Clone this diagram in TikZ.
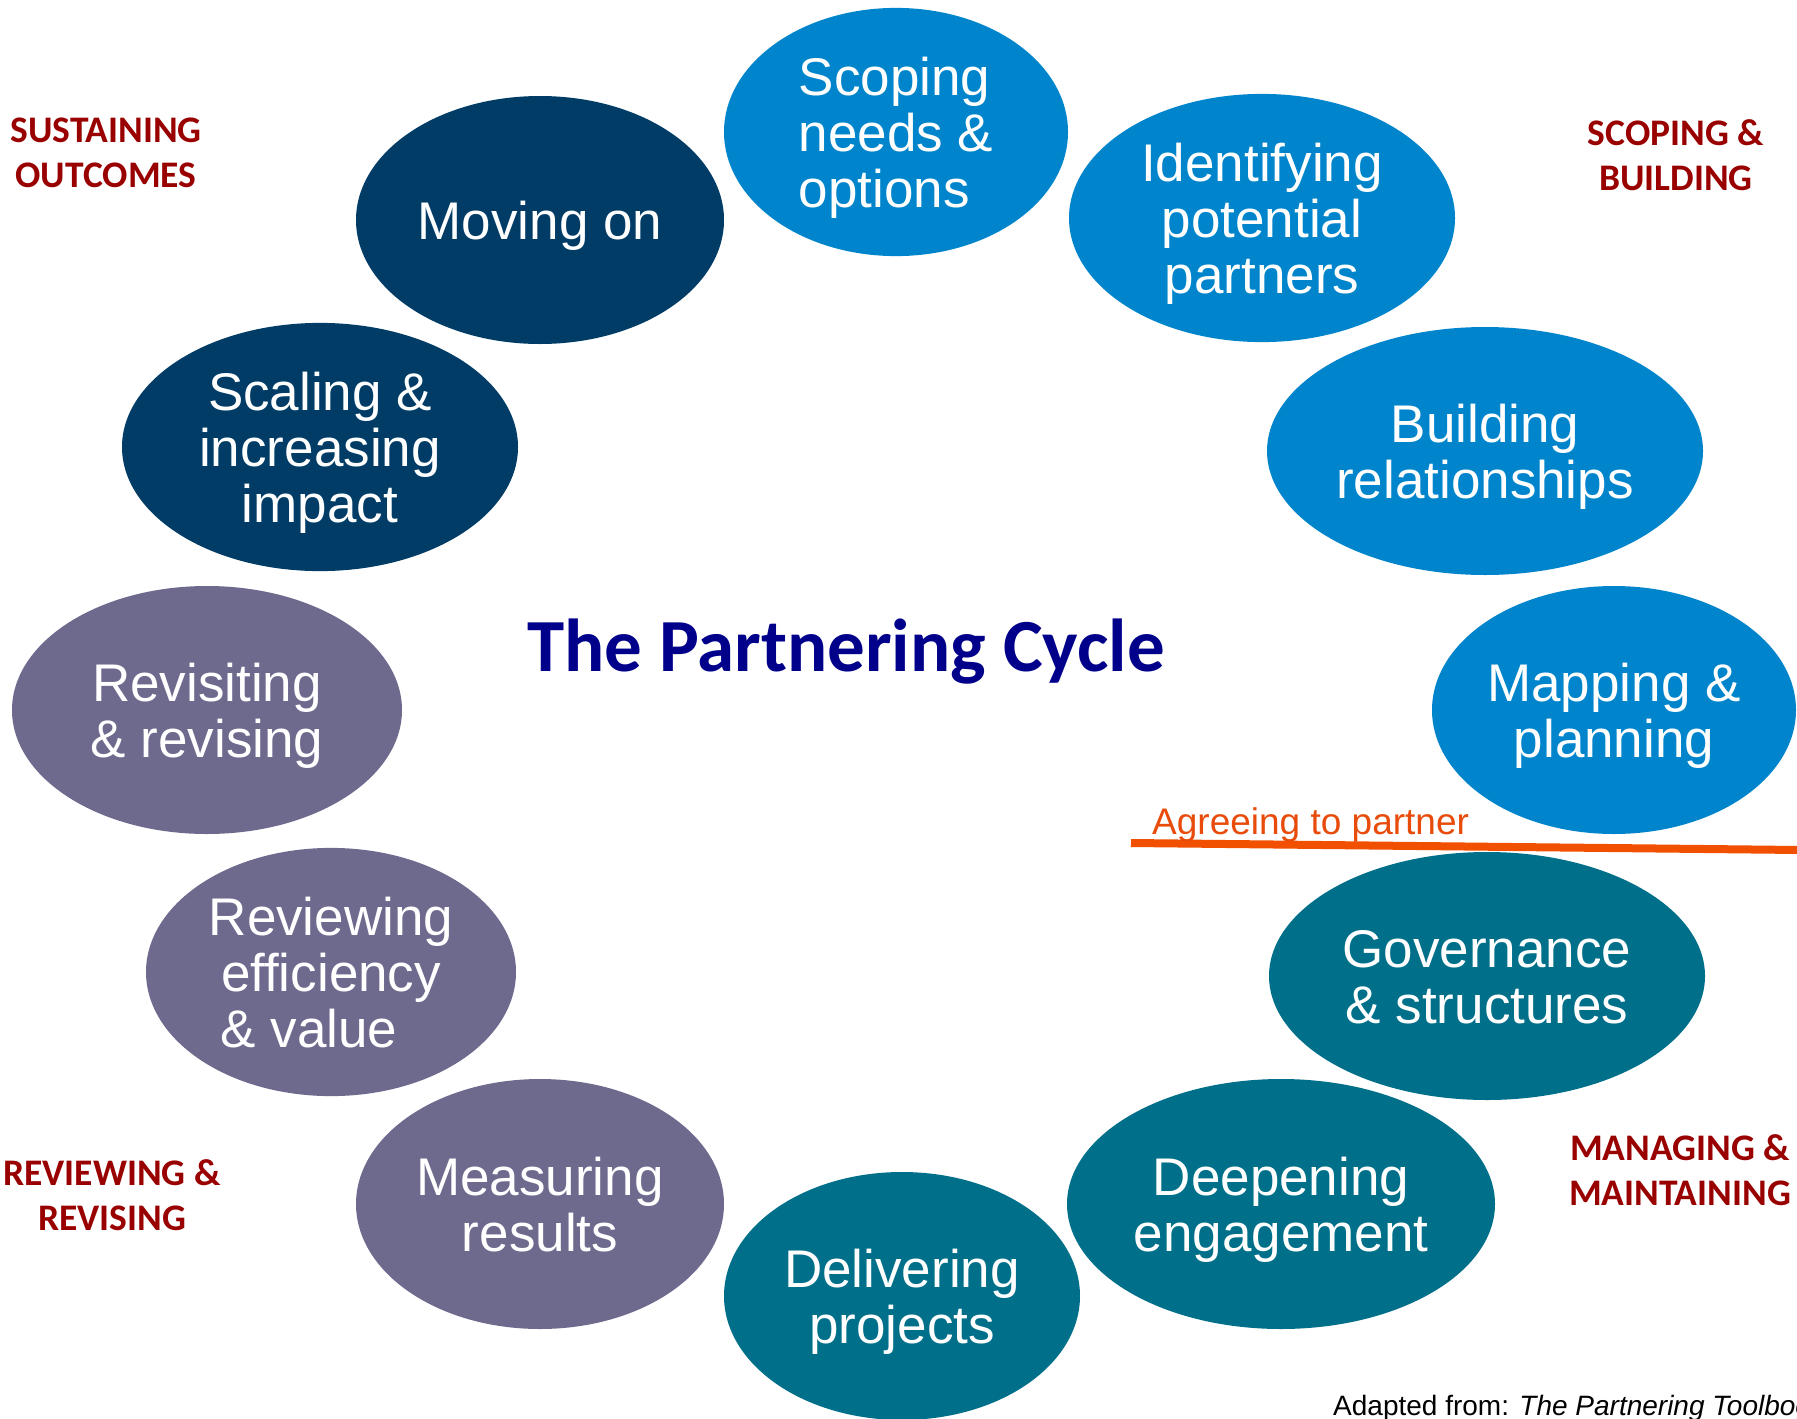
\documentclass[tikz,border=0pt]{standalone}
\usepackage{fontspec}
\setmainfont{Liberation Sans}
\newfontfamily\carl{Carlito}
\usetikzlibrary{shapes.geometric}
\definecolor{lblue}{RGB}{0,133,204}
\definecolor{navyc}{RGB}{0,60,102}
\definecolor{tealc}{RGB}{0,112,138}
\definecolor{purpc}{RGB}{110,106,142}
\definecolor{titlec}{RGB}{0,0,139}
\definecolor{dredc}{RGB}{153,0,0}
\definecolor{orangec}{RGB}{240,80,0}
\definecolor{orangetxt}{RGB}{232,75,10}
\newcommand\elfont{\fontsize{53}{56}\selectfont}
\newcommand\fstr{\rule{0pt}{51.5pt}}
\begin{document}
\begin{tikzpicture}[x=1pt,y=-1pt,
  ell/.style={ellipse, inner sep=0pt, outer sep=0pt, text=white, font=\elfont, align=center, minimum height=248pt,
    execute at end node={\rule[-12pt]{0pt}{12pt}}},
  phase/.style={font=\carl\bfseries\fontsize{37.5}{45}\selectfont, text=dredc, align=center, anchor=base, inner sep=0pt},
  ttl/.style={font=\carl\bfseries\fontsize{75}{80}\selectfont, text=titlec, anchor=base, inner sep=0pt},
  agree/.style={font=\fontsize{37}{40}\selectfont, text=orangetxt, anchor=base west, inner sep=0pt},
  src/.style={font=\fontsize{28}{30}\selectfont, text=black, anchor=base west, inner sep=0pt},
  divider/.style={draw=orangec, line width=8pt}]
\useasboundingbox (0,0) rectangle (1797,1419);
\clip (0,0) rectangle (1797,1419);
\fill[white] (0,0) rectangle (1797,1419);

% light blue ellipses
\node[ell, fill=lblue, minimum width=344pt, align=left] (scoping) at (896,132) {\fstr Scoping\\needs \&\\options};
\node[ell, fill=lblue, minimum width=386pt] (identifying) at (1262,218) {\fstr Identifying\\potential\\partners};
\node[ell, fill=lblue, minimum width=436pt] (building) at (1485,451) {\fstr Building\\relationships};
\node[ell, fill=lblue, minimum width=364pt] (mapping) at (1614,710) {\fstr Mapping \&\\planning};

% teal ellipses
\node[ell, fill=tealc, minimum width=436pt] (governance) at (1487,976) {\fstr Governance\\\& structures};
\node[ell, fill=tealc, minimum width=428pt, minimum height=250pt] (deepening) at (1281,1204) {\fstr Deepening\\engagement};
\node[ell, fill=tealc, minimum width=356pt] (delivering) at (902,1296) {\fstr Delivering\\projects};

% purple ellipses
\node[ell, fill=purpc, minimum width=368pt, minimum height=250pt] (measuring) at (540,1204) {\fstr Measuring\\results};
\node[ell, fill=purpc, minimum width=370pt] (reviewing) at (331,972) {\fstr Reviewing\\efficiency\\\& value\makebox[44pt]{}};
\node[ell, fill=purpc, minimum width=390pt] (revisiting) at (207,710) {\fstr Revisiting\\\& revising};

% navy ellipses
\node[ell, fill=navyc, minimum width=396pt] (scaling) at (320,447) {\fstr Scaling \&\\increasing\\impact};
\node[ell, fill=navyc, minimum width=368pt] (moving) at (540,220) {\fstr Moving on};

% title
\node[ttl] (title) at (846,671) {The Partnering Cycle};

% phase labels
\node[phase] (sustain) at (106,187) {SUSTAINING\\OUTCOMES};
\node[phase] (scopebuild) at (1676,190) {SCOPING \&\\BUILDING};
\node[phase] (reviewrev) at (112,1230) {REVIEWING \&\\REVISING};
\node[phase] (managing) at (1680,1205) {MANAGING \&\\MAINTAINING};

% agreeing to partner
\coordinate (divL) at (1131,843);
\coordinate (divR) at (1800,850);
\draw[divider] (divL) -- (divR);
\node[agree] (agreeing) at (1152,834) {Agreeing to partner};

% source
\node[src] (source) at (1333,1415) {Adapted from: \textit{The Partnering Toolbook}};
\end{tikzpicture}
\end{document}
